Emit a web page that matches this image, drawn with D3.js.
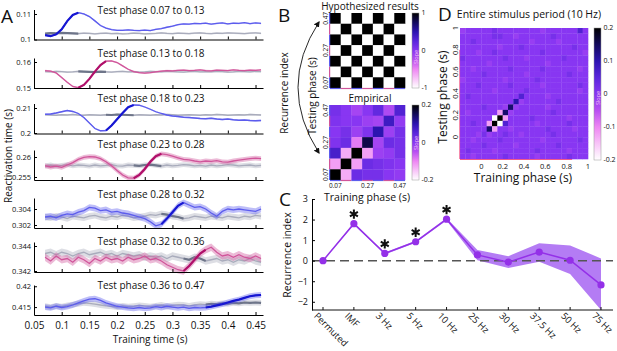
<!DOCTYPE html>
<html>
<head>
<meta charset="utf-8">
<script src="https://cdn.jsdelivr.net/npm/d3@7"></script>
<style>
  body { margin: 0; background: #fff; }
  text { font-family: "Open Sans", sans-serif; fill: #111; }
</style>
</head>
<body>
<script>
var w = 617, h = 351;

// ---------- panel A data ----------
var trainTime = [0.07,0.08,0.09,0.10,0.11,0.12,0.13,0.14,0.15,0.16,
                 0.17,0.18,0.19,0.20,0.21,0.22,0.23,0.24,0.25,0.26,
                 0.27,0.28,0.29,0.30,0.31,0.32,0.33,0.34,0.35,0.36,
                 0.37,0.38,0.39,0.40,0.41,0.42,0.43,0.44,0.45,0.46];
var phaseText = ["0.07 to 0.13","0.13 to 0.18","0.18 to 0.23","0.23 to 0.28","0.28 to 0.32","0.32 to 0.36","0.36 to 0.47"];
var phaseLo = [0.07,0.13,0.18,0.23,0.28,0.32,0.36];
var phaseHi = [0.13,0.18,0.23,0.28,0.32,0.36,0.47];
var xTicksA = [0.05,0.1,0.15,0.2,0.25,0.3,0.35,0.4,0.45];
var yTicksA = [[0.1,0.11],[0.15,0.16],[0.2,0.21],[0.255,0.26],[0.302,0.304],[0.342,0.344],[0.415,0.42]];
var yDomainA = [[0.1,0.11176],[0.15,0.16154],[0.1998,0.2118],[0.25425,0.26175],[0.301625,0.305375],[0.34192,0.34432],[0.4131,0.4203]];
var seA = [0.0003,0.0003,0.0003,0.0006,0.0004,0.0003,0.0007];

var react1 = [.1017,.1013,.1020,.1040,.1072,.1096,.1105,.1100,.1090,.1073,
              .1055,.1045,.1039,.1036,.1036,.1038,.1036,.1035,.1037,.1035,
              .1040,.1043,.1048,.1052,.1058,.1061,.1060,.1063,.1062,.1064,
              .1060,.1063,.1065,.1061,.1064,.1063,.1066,.1062,.1065,.1063];
var perm1 = [.1023,.1025,.1024,.1026,.1025,.1024,.1023,.1025,.1024,.1022,
             .1024,.1025,.1023,.1024,.1022,.1023,.1025,.1024,.1022,.1023,
             .1024,.1026,.1024,.1023,.1025,.1024,.1023,.1025,.1026,.1024,
             .1023,.1025,.1024,.1026,.1025,.1024,.1023,.1025,.1026,.1024];
var react2 = [.1567,.1565,.1558,.1540,.1522,.1506,.1501,.1512,.1535,.1563,
              .1588,.1603,.1604,.1598,.1585,.1572,.1563,.1559,.1557,.1559,
              .1562,.1565,.1567,.1566,.1568,.1569,.1567,.1568,.1570,.1567,
              .1566,.1569,.1568,.1567,.1570,.1568,.1567,.1569,.1568,.1570];
var perm2 = [.1563,.1562,.1564,.1563,.1561,.1562,.1564,.1563,.1562,.1561,
             .1563,.1562,.1561,.1563,.1564,.1562,.1563,.1561,.1562,.1564,
             .1563,.1562,.1564,.1563,.1562,.1561,.1563,.1564,.1562,.1563,
             .1562,.1564,.1563,.1561,.1562,.1564,.1563,.1562,.1564,.1563];
var react3 = [.2075,.2076,.2080,.2085,.2090,.2086,.2078,.2062,.2040,.2018,
              .2009,.2010,.2030,.2055,.2080,.2103,.2112,.2111,.2104,.2095,
              .2085,.2078,.2072,.2068,.2066,.2063,.2062,.2060,.2058,.2057,
              .2059,.2056,.2054,.2056,.2053,.2051,.2052,.2050,.2049,.2050];
var perm3 = [.2073,.2072,.2071,.2073,.2072,.2074,.2072,.2071,.2073,.2072,
             .2071,.2073,.2072,.2074,.2073,.2072,.2071,.2073,.2072,.2071,
             .2073,.2072,.2074,.2073,.2071,.2072,.2073,.2072,.2071,.2073,
             .2072,.2074,.2073,.2071,.2072,.2073,.2072,.2074,.2073,.2072];
var react4 = [.2578,.2575,.2577,.2574,.2580,.2586,.2594,.2599,.2601,.2600,
              .2596,.2588,.2578,.2566,.2555,.2548,.2547,.2555,.2570,.2588,
              .2602,.2608,.2606,.2602,.2598,.2594,.2593,.2590,.2588,.2590,
              .2589,.2591,.2588,.2587,.2590,.2592,.2594,.2596,.2597,.2596];
var perm4 = [.2578,.2580,.2577,.2579,.2581,.2578,.2580,.2579,.2577,.2580,
             .2578,.2579,.2581,.2578,.2577,.2580,.2579,.2578,.2580,.2581,
             .2579,.2577,.2580,.2578,.2579,.2581,.2580,.2578,.2579,.2577,
             .2580,.2578,.2579,.2581,.2580,.2578,.2579,.2580,.2578,.2579];
var react5 = [.3030,.3031,.3029,.3032,.3034,.3033,.3036,.3038,.3042,.3041,
              .3038,.3039,.3036,.3037,.3035,.3034,.3032,.3030,.3028,.3024,
              .3019,.3021,.3028,.3036,.3044,.3048,.3045,.3042,.3043,.3040,
              .3035,.3031,.3037,.3040,.3039,.3040,.3039,.3038,.3037,.3040];
var perm5 = [.3030,.3029,.3031,.3030,.3028,.3031,.3030,.3029,.3031,.3032,
             .3030,.3029,.3031,.3030,.3032,.3031,.3029,.3030,.3031,.3033,
             .3032,.3034,.3033,.3031,.3030,.3028,.3029,.3031,.3030,.3029,
             .3031,.3030,.3029,.3031,.3030,.3029,.3031,.3030,.3032,.3031];
var react6 = [.3431,.3428,.3432,.3429,.3430,.3427,.3431,.3429,.3426,.3430,
              .3428,.3431,.3429,.3430,.3428,.3431,.3429,.3430,.3432,.3429,
              .3430,.3428,.3425,.3423,.3421,.3420,.3424,.3429,.3434,.3437,
              .3439,.3435,.3432,.3433,.3431,.3433,.3431,.3430,.3432,.3430];
var perm6 = [.3434,.3435,.3433,.3435,.3434,.3432,.3434,.3435,.3433,.3434,
             .3435,.3433,.3434,.3432,.3434,.3433,.3432,.3433,.3431,.3432,
             .3431,.3432,.3430,.3432,.3431,.3430,.3429,.3431,.3430,.3428,
             .3429,.3430,.3428,.3429,.3427,.3429,.3428,.3430,.3428,.3427];
var react7 = [.4150,.4148,.4152,.4149,.4151,.4155,.4160,.4165,.4169,.4170,
              .4166,.4160,.4156,.4152,.4150,.4148,.4147,.4149,.4147,.4148,
              .4151,.4149,.4152,.4150,.4148,.4150,.4147,.4149,.4148,.4149,
              .4151,.4154,.4157,.4161,.4165,.4168,.4172,.4176,.4178,.4179];
var perm7 = [.4152,.4150,.4153,.4151,.4154,.4156,.4158,.4160,.4159,.4157,
             .4155,.4153,.4152,.4150,.4153,.4151,.4152,.4154,.4153,.4151,
             .4153,.4155,.4152,.4154,.4156,.4155,.4153,.4155,.4157,.4156,
             .4158,.4157,.4159,.4158,.4160,.4159,.4161,.4160,.4161,.4160];
var reactA = [react1, react2, react3, react4, react5, react6, react7];
var permA = [perm1, perm2, perm3, perm4, perm5, perm6, perm7];

// ---------- panel B data ----------
var phaseTickB = ["0.47", "0.27", "0.07"];   // rows 0, 3, 6 from top
var hypoMap = [
  [ 1,-1, 1,-1, 1,-1, 1],
  [-1, 1,-1, 1,-1, 1,-1],
  [ 1,-1, 1,-1, 1,-1, 1],
  [-1, 1,-1, 1,-1, 1,-1],
  [ 1,-1, 1,-1, 1,-1, 1],
  [-1, 1,-1, 1,-1, 1,-1],
  [ 1,-1, 1,-1, 1,-1, 1]];
var empMap = [
  [ 0.02, 0.00,-0.03, 0.00, 0.04,-0.04, 0.06],
  [ 0.01, 0.00, 0.00,-0.02,-0.03, 0.08,-0.01],
  [ 0.00, 0.02,-0.02, 0.01, 0.10,-0.02, 0.02],
  [ 0.01, 0.03,-0.09, 0.16,-0.03, 0.03, 0.02],
  [ 0.07,-0.13, 0.20,-0.12,-0.02,-0.01, 0.02],
  [-0.12, 0.20,-0.12, 0.03, 0.02, 0.01, 0.00],
  [ 0.20,-0.13, 0.03, 0.02, 0.02, 0.00,-0.01]];

// ---------- panel C data ----------
var freqCats = ["Permuted","IMF","3 Hz","5 Hz","10 Hz","25 Hz","30 Hz","37.5 Hz","50 Hz","75 Hz"];
var recurMean = [0, 1.80, 0.35, 0.92, 2.02, 0.28, -0.07, 0.42, 0.02, -1.18];
var recurLo   = [0, 1.75, 0.30, 0.87, 1.95, 0.02, -0.36, -0.05, -0.65, -2.40];
var recurHi   = [0, 1.85, 0.40, 0.97, 2.08, 0.52, 0.22, 0.85, 0.74, 0.11];
var recurSig  = [false, true, true, true, true, false, false, false, false, false];
var yTicksC = [-2, -1, 0, 1, 2, 3];

// ---------- panel D data ----------
var dStart = -0.2, dStep = 0.05;
var dTicks = [0, 0.2, 0.4, 0.6, 0.8, 1];
var dCode = {"W": -0.2, "P": -0.12, "p": -0.06, "l": -0.016, ".": 0, "d": 0.018, "b": 0.06, "B": 0.1, "N": 0.14, "K": 0.2};
// rows from top (testing phase 1.0) to bottom (-0.2), columns left (-0.2) to right (1.0)
var dRows = [
  "l.....d........l......b.",
  "......dd..l......d......",
  "..d..........l....l.....",
  ".......l...d.........d..",
  "...l..d........d.......l",
  "d.......d...l......d....",
  ".....l..........l.......",
  "..l......d.....d......l.",
  "....d.......l.......d...",
  "l.......l.....d.........",
  "...d.....d.....l......d.",
  "......l.....d.........l.",
  ".d.........b....l.......",
  "..........Bl......d.....",
  "....d...lNl.....l.......",
  ".l.....PNl.......d......",
  "......WKP....d......l...",
  "..d..PKWb.....l.....d...",
  ".....NP..l......d....l..",
  "...ldl..d..l.....d......",
  "..l....d.......l......d.",
  "....d.....l.......d.....",
  ".d....l.......d.....l...",
  "..l.....d.....l.....d..."];

// ---------- colours ----------
var blueMain = "#5c5ced", blueDark = "#1717d2";
var magMain = "#d0559a", magDark = "#b0106a";
var grayMain = "#a9acbc", grayDark = "#6e7589";
var purple = "#9430e8";

var slopeColor = d3.scaleLinear()
    .domain([-1, -0.75, -0.5, -0.25, 0, 0.25, 0.5, 0.75, 1])
    .range(["#ffffff","#f8c4f8","#ee86f3","#b94ff2","#8836f2","#5a26dc","#2c14b0","#120a5c","#000000"])
    .clamp(true);

var svg = d3.select("body").append("svg")
    .attr("width", w)
    .attr("height", h);

var defs = svg.append("defs");

function panelLetter(txt, x, y) {
  svg.append("text").attr("x", x).attr("y", y)
     .attr("font-size", 19).text(txt);
}

// ================= panel A =================
var axBottom = [39.5, 88, 133.5, 180, 228, 272, 315];
var titleBase = [14, 56.5, 102, 148, 198, 245, 289];
var plotH = 30;
var xA = d3.scaleLinear().domain([0.05, 0.4635]).range([34, 263]);

function drawCurve(g, vals, se, y, main, dark, lo, hi) {
  var pts = trainTime.map(function(t, i) { return {t: t, v: vals[i]}; });
  g.append("path")
    .datum(pts)
    .attr("fill", main)
    .attr("opacity", 0.4)
    .attr("d", d3.area()
      .x(function(d) { return xA(d.t); })
      .y0(function(d) { return y(d.v - se); })
      .y1(function(d) { return y(d.v + se); }));
  g.append("path")
    .datum(pts)
    .attr("fill", "none")
    .attr("stroke", main)
    .attr("stroke-width", 1.3)
    .attr("d", d3.line().x(function(d) { return xA(d.t); }).y(function(d) { return y(d.v); }));
  g.append("path")
    .datum(pts.filter(function(d) { return d.t >= lo - 1e-9 && d.t <= hi + 1e-9; }))
    .attr("fill", "none")
    .attr("stroke", dark)
    .attr("stroke-width", 2.2)
    .attr("d", d3.line().x(function(d) { return xA(d.t); }).y(function(d) { return y(d.v); }));
}

for (var k = 0; k < 7; k++) {
  var b = axBottom[k];
  var yA = d3.scaleLinear().domain(yDomainA[k]).range([b, b - plotH]);
  var gA = svg.append("g");
  var isBlue = (k % 2 === 0);

  drawCurve(gA, permA[k], seA[k], yA, grayMain, grayDark, phaseLo[k], phaseHi[k]);
  drawCurve(gA, reactA[k], seA[k], yA, isBlue ? blueMain : magMain, isBlue ? blueDark : magDark, phaseLo[k], phaseHi[k]);

  var xAx = gA.append("g")
    .attr("transform", "translate(0," + b + ")")
    .call(d3.axisBottom(xA).tickValues(xTicksA).tickSize(-3).tickSizeOuter(0).tickPadding(7)
      .tickFormat(k === 6 ? d3.format("") : function() { return ""; }));
  xAx.attr("font-family", null).attr("font-size", 10);

  var yAx = gA.append("g")
    .attr("transform", "translate(34,0)")
    .call(d3.axisLeft(yA).tickValues(yTicksA[k]).tickSize(-3).tickSizeOuter(0).tickPadding(3)
      .tickFormat(d3.format("")));
  yAx.attr("font-family", null).attr("font-size", 7.5);

  gA.append("text")
    .attr("x", 151).attr("y", titleBase[k])
    .attr("text-anchor", "middle")
    .attr("font-size", 10)
    .text("Test phase " + phaseText[k]);
}

svg.append("text")
  .attr("transform", "translate(11.5,156) rotate(-90)")
  .attr("text-anchor", "middle")
  .attr("font-size", 10)
  .text("Reactivation time (s)");

svg.append("text")
  .attr("x", 150).attr("y", 343)
  .attr("text-anchor", "middle")
  .attr("font-size", 10)
  .text("Training time (s)");

panelLetter("A", 1, 23);

// ================= panel B =================
function gradient(id) {
  var lg = defs.append("linearGradient").attr("id", id)
    .attr("x1", 0).attr("y1", 1).attr("x2", 0).attr("y2", 0);
  d3.range(0, 1.0001, 0.125).forEach(function(s) {
    lg.append("stop").attr("offset", s).attr("stop-color", slopeColor(s * 2 - 1));
  });
}
gradient("slopeGrad");

function colorbar(x, y0, y1, ticks, labels, slopeY) {
  svg.append("rect")
    .attr("x", x).attr("y", y0).attr("width", 7).attr("height", y1 - y0)
    .attr("fill", "url(#slopeGrad)")
    .attr("stroke", "#999").attr("stroke-width", 0.5);
  var cy = d3.scaleLinear().domain([ticks[0], ticks[ticks.length - 1]]).range([y1, y0]);
  ticks.forEach(function(t, i) {
    svg.append("text")
      .attr("x", x + 9.5).attr("y", cy(t)).attr("dy", "0.35em")
      .attr("font-size", 7).text(labels[i]);
  });
  svg.append("text")
    .attr("transform", "translate(" + (x + 5.6) + "," + slopeY + ") rotate(-90)")
    .attr("text-anchor", "middle")
    .attr("font-size", 5.5)
    .style("fill", "#f6c6f6")
    .text("Slope");
}

function heatB(map, maxAbs, top) {
  var n = map.length;
  var xs = d3.scaleBand().domain(d3.range(n)).range([330, 405]);
  var ys = d3.scaleBand().domain(d3.range(n)).range([top, top + 75]);
  var g = svg.append("g");
  map.forEach(function(row, r) {
    row.forEach(function(v, c) {
      g.append("rect")
        .attr("x", xs(c)).attr("y", ys(r))
        .attr("width", xs.bandwidth() + 0.3).attr("height", ys.bandwidth() + 0.3)
        .attr("fill", slopeColor(v / maxAbs));
    });
  });
  // phase colour strips on the left and bottom edges
  d3.range(n).forEach(function(i) {
    var col = (i % 2 === 0) ? blueMain : magMain;
    g.append("line")
      .attr("x1", xs(i)).attr("x2", xs(i) + xs.bandwidth())
      .attr("y1", top + 75.5).attr("y2", top + 75.5)
      .attr("stroke", col).attr("stroke-width", 1.2);
    g.append("line")
      .attr("x1", 329.6).attr("x2", 329.6)
      .attr("y1", ys(n - 1 - i)).attr("y2", ys(n - 1 - i) + ys.bandwidth())
      .attr("stroke", col).attr("stroke-width", 1.2);
  });
  [0, 3, 6].forEach(function(r, i) {
    svg.append("text")
      .attr("transform", "translate(328," + (ys(r) + ys.bandwidth() / 2) + ") rotate(-90)")
      .attr("text-anchor", "middle")
      .attr("font-size", 6.5)
      .text(phaseTickB[i]);
  });
  return xs;
}

heatB(hypoMap, 1, 13);
var xsB = heatB(empMap, 0.2, 105);
[0, 3, 6].forEach(function(c, i) {
  svg.append("text")
    .attr("x", xsB(c) + xsB.bandwidth() / 2).attr("y", 187.5)
    .attr("text-anchor", "middle")
    .attr("font-size", 6.5)
    .text(phaseTickB[2 - i]);
});

colorbar(412, 13, 88, [-1, 0, 1], ["-1", "0", "1"], 57);
colorbar(412, 105, 180, [-0.2, 0, 0.2], ["-0.2", "0", "0.2"], 143);

svg.append("text").attr("x", 370).attr("y", 10).attr("text-anchor", "middle")
  .attr("font-size", 10).text("Hypothesized results");
svg.append("text").attr("x", 370).attr("y", 101.5).attr("text-anchor", "middle")
  .attr("font-size", 10).text("Empirical");
svg.append("text").attr("x", 367).attr("y", 200.5).attr("text-anchor", "middle")
  .attr("font-size", 10.5).text("Training phase (s)");
svg.append("text")
  .attr("transform", "translate(315.5,96) rotate(-90)")
  .attr("text-anchor", "middle").attr("font-size", 10).text("Testing phase (s)");
svg.append("text")
  .attr("transform", "translate(288,93) rotate(-90)")
  .attr("text-anchor", "middle").attr("font-size", 10).text("Recurrence index");

defs.append("marker")
  .attr("id", "arrowHead")
  .attr("viewBox", "0 0 10 10")
  .attr("refX", 8).attr("refY", 5)
  .attr("markerWidth", 6).attr("markerHeight", 6)
  .attr("markerUnits", "userSpaceOnUse")
  .attr("orient", "auto-start-reverse")
  .append("path").attr("d", "M0,0L10,5L0,10z").attr("fill", "#111");

svg.append("path")
  .attr("d", "M319,22 Q277,87 319,153")
  .attr("fill", "none").attr("stroke", "#111").attr("stroke-width", 0.9)
  .attr("marker-start", "url(#arrowHead)")
  .attr("marker-end", "url(#arrowHead)");

panelLetter("B", 278, 22);

// ================= panel C =================
var xC = d3.scalePoint().domain(freqCats).range([323, 601]);
var yC = d3.scaleLinear().domain([-2.4, 3]).range([310, 199]);
var recur = freqCats.map(function(c, i) {
  return {c: c, m: recurMean[i], lo: recurLo[i], hi: recurHi[i], sig: recurSig[i]};
});
var gC = svg.append("g");

gC.append("path")
  .datum(recur)
  .attr("fill", "#b47cf4")
  .attr("d", d3.area()
    .x(function(d) { return xC(d.c); })
    .y0(function(d) { return yC(d.lo); })
    .y1(function(d) { return yC(d.hi); }));

gC.append("line")
  .attr("x1", 312).attr("x2", 613)
  .attr("y1", yC(0)).attr("y2", yC(0))
  .attr("stroke", "#555").attr("stroke-width", 1.5)
  .attr("stroke-dasharray", "9,5");

gC.append("path")
  .datum(recur)
  .attr("fill", "none").attr("stroke", purple).attr("stroke-width", 1.5)
  .attr("d", d3.line().x(function(d) { return xC(d.c); }).y(function(d) { return yC(d.m); }));

gC.selectAll(".pt").data(recur).enter().append("circle")
  .attr("cx", function(d) { return xC(d.c); })
  .attr("cy", function(d) { return yC(d.m); })
  .attr("r", 3.6)
  .attr("fill", purple);

gC.selectAll(".star").data(recur.filter(function(d) { return d.sig; })).enter().append("path")
  .attr("transform", function(d) { return "translate(" + xC(d.c) + "," + (yC(d.m) - 9.5) + ")"; })
  .attr("d", d3.symbol().type(d3.symbolAsterisk).size(60))
  .attr("fill", "none").attr("stroke", "#111").attr("stroke-width", 2);

var yCax = gC.append("g")
  .attr("transform", "translate(312,0)")
  .call(d3.axisLeft(yC).tickValues(yTicksC).tickSize(-3).tickSizeOuter(0).tickPadding(4)
    .tickFormat(d3.format("d")));
yCax.attr("font-family", null).attr("font-size", 9);

gC.append("line")
  .attr("x1", 312).attr("x2", 613).attr("y1", 310).attr("y2", 310)
  .attr("stroke", "#111");
gC.selectAll(".xt").data(freqCats).enter().append("line")
  .attr("x1", function(d) { return xC(d); }).attr("x2", function(d) { return xC(d); })
  .attr("y1", 310).attr("y2", 307)
  .attr("stroke", "#111");
gC.selectAll(".xl").data(freqCats).enter().append("text")
  .attr("transform", function(d) { return "translate(" + (xC(d) - 5) + ",312) rotate(45)"; })
  .attr("dy", "0.7em")
  .attr("font-size", 9.3)
  .text(function(d) { return d; });

svg.append("text")
  .attr("transform", "translate(291,255) rotate(-90)")
  .attr("text-anchor", "middle").attr("font-size", 10.5).text("Recurrence index");

panelLetter("C", 279, 206);

// ================= panel D =================
var xD = d3.scaleLinear().domain([-0.2, 1.0]).range([460, 588]);
var yD = d3.scaleLinear().domain([-0.2, 1.0]).range([159, 28]);
var gD = svg.append("g");
dRows.forEach(function(rowStr, r) {
  for (var c = 0; c < 24; c++) {
    var ch = rowStr.charAt(c) || ".";
    var v = dCode[ch] !== undefined ? dCode[ch] : 0;
    var x0 = dStart + c * dStep, y0 = 1.0 - (r + 1) * dStep;
    gD.append("rect")
      .attr("x", xD(x0)).attr("y", yD(y0 + dStep))
      .attr("width", xD(x0 + dStep) - xD(x0) + 0.3)
      .attr("height", yD(y0) - yD(y0 + dStep) + 0.3)
      .attr("fill", slopeColor(v / 0.2));
  }
});
gD.append("line")
  .attr("x1", xD(-0.2)).attr("x2", xD(0.85)).attr("y1", 159.5).attr("y2", 159.5)
  .attr("stroke", "#f05a8c").attr("stroke-width", 1);
gD.append("line")
  .attr("x1", 459.6).attr("x2", 459.6).attr("y1", yD(-0.2)).attr("y2", yD(0.8))
  .attr("stroke", "#f05a8c").attr("stroke-width", 0.8);

dTicks.forEach(function(t) {
  svg.append("text").attr("x", xD(t)).attr("y", 168.5)
    .attr("text-anchor", "middle").attr("font-size", 7.5).text(t);
  svg.append("text")
    .attr("transform", "translate(457.5," + yD(t) + ") rotate(-90)")
    .attr("text-anchor", "middle").attr("font-size", 7.5).text(t);
});

colorbar(594, 28, 160, [-0.2, -0.1, 0, 0.1, 0.2], ["-0.2", "-0.1", "0", "0.1", "0.2"], 98);

svg.append("text").attr("x", 529).attr("y", 18).attr("text-anchor", "middle")
  .attr("font-size", 10.5).text("Entire stimulus period (10 Hz)");
svg.append("text").attr("x", 523).attr("y", 182).attr("text-anchor", "middle")
  .attr("font-size", 12).text("Training phase (s)");
svg.append("text")
  .attr("transform", "translate(447,97) rotate(-90)")
  .attr("text-anchor", "middle").attr("font-size", 12).text("Testing phase (s)");

panelLetter("D", 438, 21);
</script>
</body>
</html>
